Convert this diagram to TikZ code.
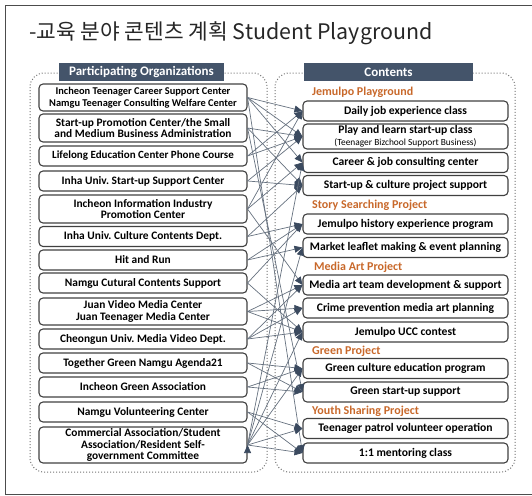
\documentclass[tikz,border=0pt]{standalone}
\usepackage{fontspec}
\setmainfont{Carlito}
\newfontfamily\krfont{Noto Sans CJK KR}
\usetikzlibrary{arrows.meta}
\definecolor{hdrblue}{HTML}{44546A}
\definecolor{catorange}{HTML}{C8682A}
\definecolor{linkgray}{HTML}{66717F}
\definecolor{tipblue}{HTML}{3B4A5F}

\begin{document}
\begin{tikzpicture}[x=1pt,y=-1pt,
  org/.style={draw=black!75,line width=1.1pt,rounded corners=4pt,minimum width=208pt,minimum height=20pt,align=center,font=\bfseries\fontsize{11.4}{11.5}\selectfont,inner sep=1pt},
  item/.style={draw=black!75,line width=1.1pt,rounded corners=4pt,minimum width=205pt,minimum height=20pt,align=center,font=\bfseries\fontsize{11.6}{12}\selectfont,inner sep=1pt},
  head/.style={fill=hdrblue,text=white,font=\bfseries\fontsize{13}{14}\selectfont,minimum height=18pt,inner sep=1pt},
  cat/.style={anchor=west,text=catorange,font=\bfseries\fontsize{12}{13}\selectfont,inner sep=0pt},
  group/.style={draw=black!55,dotted,line width=1pt,rounded corners=14pt},
  link/.style={draw=linkgray,line width=0.7pt,-{Triangle[length=8pt,width=7pt,color=tipblue]}}]

  \useasboundingbox (0,0) rectangle (532,495);
  \draw[black!70,line width=0.8pt] (532,5) -- (5,5) -- (5,494) -- (532,494);

  \node[anchor=west,inner sep=0pt,text=black!85,font=\krfont\fontsize{21.4}{24}\selectfont] (title) at (29,33) {-교육 분야 콘텐츠 계획 Student Playground};

  % dotted groups
  \draw[group] (30,73) rectangle (267,472);
  \draw[group] (275,73) rectangle (515,472);
  \node[head,minimum width=165pt] (lhead) at (141.5,72) {Participating Organizations};
  \node[head,minimum width=169pt] (rhead) at (388.5,72) {Contents};

  % organizations
  \node[org,minimum height=27pt,font=\bfseries\fontsize{10.4}{11.5}\selectfont] (l1) at (143,97.5) {Incheon Teenager Career Support Center\\Namgu Teenager Consulting Welfare Center};
  \node[org,minimum height=28pt] (l2) at (143,128) {Start-up Promotion Center/the Small\\and Medium Business Administration};
  \node[org,font=\bfseries\fontsize{11}{11.5}\selectfont] (l3) at (143,156) {Lifelong Education Center Phone Course};
  \node[org] (l4) at (143,181) {Inha Univ.\ Start-up Support Center};
  \node[org,minimum height=28pt] (l5) at (143,209) {Incheon Information Industry\\Promotion Center};
  \node[org] (l6) at (143,236.5) {Inha Univ.\ Culture Contents Dept.};
  \node[org] (l7) at (143,260) {Hit and Run};
  \node[org] (l8) at (143,283) {Namgu Cutural Contents Support};
  \node[org,minimum height=27pt] (l9) at (143,311.5) {Juan Video Media Center\\Juan Teenager Media Center};
  \node[org] (l10) at (143,339) {Cheongun Univ.\ Media Video Dept.};
  \node[org] (l11) at (143,363) {Together Green Namgu Agenda21};
  \node[org] (l12) at (143,387) {Incheon Green Association};
  \node[org] (l13) at (143,412) {Namgu Volunteering Center};
  \node[org,minimum height=36pt] (l14) at (143,445) {Commercial Association/Student\\Association/Resident Self-\\government Committee};

  % contents
  \node[cat] (c1) at (312,92) {Jemulpo Playground};
  \node[item] (r1) at (405.5,111) {Daily job experience class};
  \node[item,minimum height=25pt] (r2) at (405.5,136.5) {Play and learn start-up class\\{\mdseries\fontsize{9.4}{10}\selectfont(Teenager Bizchool Support Business)}};
  \node[item] (r3) at (405.5,162.5) {Career \& job consulting center};
  \node[item] (r4) at (405.5,185.5) {Start-up \& culture project support};
  \node[cat] (c2) at (312,205) {Story Searching Project};
  \node[item] (r5) at (405.5,224) {Jemulpo history experience program};
  \node[item] (r6) at (405.5,247.5) {Market leaflet making \& event planning};
  \node[cat] (c3) at (314,267) {Media Art Project};
  \node[item] (r7) at (405.5,285) {Media art team development \& support};
  \node[item] (r8) at (405.5,308) {Crime prevention media art planning};
  \node[item] (r9) at (405.5,332) {Jemulpo UCC contest};
  \node[cat] (c4) at (312,351) {Green Project};
  \node[item] (r10) at (405.5,368.5) {Green culture education program};
  \node[item] (r11) at (405.5,392) {Green start-up support};
  \node[cat] (c5) at (312,411) {Youth Sharing Project};
  \node[item] (r12) at (405.5,428.5) {Teenager patrol volunteer operation};
  \node[item] (r13) at (405.5,453) {1:1 mentoring class};

  \path[link]
   (l1.east) edge (r1.west)
   (l1.east) edge (r2.west)
   (l1.east) edge (r3.west)
   (l1.east) edge (r13.west)
   (l2.east) edge (r2.west)
   (l2.east) edge (r4.west)
   (l2.east) edge (r11.west)
   (l3.east) edge (r1.west)
   (l3.east) edge (r2.west)
   (l4.east) edge (r2.west)
   (l4.east) edge (r4.west)
   (l5.east) edge (r1.west)
   (l5.east) edge (r3.west)
   (l5.east) edge (r7.west)
   (l6.east) edge (r5.west)
   (l6.east) edge (r4.west)
   (l7.east) edge (r5.west)
   (l7.east) edge (r6.west)
   (l8.east) edge (r9.west)
   (l8.east) edge (r5.west)
   (l9.east) edge (r7.west)
   (l9.east) edge (r8.west)
   (l9.east) edge (r9.west)
   (l10.east) edge (r7.west)
   (l10.east) edge (r8.west)
   (l10.east) edge (r9.west)
   (l11.east) edge (r10.west)
   (l11.east) edge (r11.west)
   (l12.east) edge (r10.west)
   (l12.east) edge (r11.west)
   (l13.east) edge (r12.west)
   (l13.east) edge (r13.west)
   (l14.east) edge (r12.west)
   (l14.east) edge (r13.west)
   (l14.east) edge (r6.west)
   (l14.east) edge (r9.west)
   (l14.east) edge (r10.west)
   (l14.east) edge (r3.west);
\end{tikzpicture}
\end{document}
